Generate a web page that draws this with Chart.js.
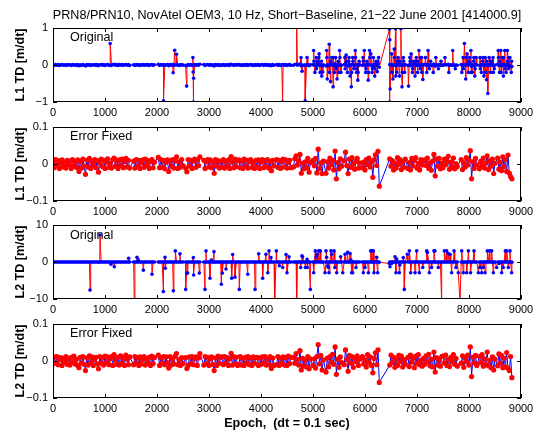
<!DOCTYPE html>
<html lang="en">
<head>
<meta charset="UTF-8">
<title>PRN8/PRN10 time differences</title>
<script src="https://cdn.jsdelivr.net/npm/chart.js"></script>
<style>
  body { margin: 0; background: #fff; }
  #fig { position: relative; width: 535px; height: 432px; background: #fff; font-family: "Liberation Sans", Arial, sans-serif; color: #000; overflow: hidden; }
  #fig canvas { position: absolute; left: 0; }
  .txt { position: absolute; font-size: 12.6px; line-height: 14px; white-space: pre; }
</style>
</head>
<body>
<div id="fig">
  <canvas id="c1" width="540" height="104" style="top:16px"></canvas>
  <canvas id="c2" width="540" height="104" style="top:115px"></canvas>
  <canvas id="c3" width="540" height="104" style="top:213px"></canvas>
  <canvas id="c4" width="540" height="104" style="top:312px"></canvas>
  <div class="txt" style="left:37px; width:500px; text-align:center; top:8px;">PRN8/PRN10, NovAtel OEM3, 10 Hz, Short−Baseline, 21−22 June 2001 [414000.9]</div>
  <div class="txt" style="left:70px; top:30px;">Original</div>
  <div class="txt" style="left:70px; top:129px;">Error Fixed</div>
  <div class="txt" style="left:70px; top:228px;">Original</div>
  <div class="txt" style="left:70px; top:326px;">Error Fixed</div>
  <div class="txt" style="left:53px; width:468px; text-align:center; top:416px; font-weight:bold;">Epoch,  (dt = 0.1 sec)</div>
</div>
<script>
// recorded blocks (epochs), sampled every STEP epochs
const STEP = 25;
const segStart = [0, 1550, 2025, 2550, 2900, 3250, 3575, 3925, 4300, 4625, 5000, 5250, 5600, 5950, 6475, 6825, 7150, 7500, 7850, 8200, 8550];
const segEnd   = [1475, 1950, 2500, 2825, 3225, 3550, 3900, 4250, 4575, 4950, 5200, 5550, 5900, 6275, 6775, 7125, 7475, 7775, 8150, 8500, 8825];

// L1 time difference after fixing (m/dt), one line per block
const l1Fixed = [
  0.006, -0.010, 0.012, -0.004, 0.009, -0.012, 0.003, 0.011, -0.008, 0.005,
  -0.011, 0.010, -0.002, 0.008, -0.012, 0.012, -0.006, 0.004, -0.009, 0.011,
  -0.020, 0.007, -0.011, 0.013, -0.005, -0.028, 0.010, -0.008, 0.015, -0.012,
  0.006, -0.003, 0.012, -0.010, 0.009, -0.022, 0.004, 0.013, -0.007, 0.010,
  -0.012, 0.005, 0.014, -0.009, 0.002, -0.011, 0.012, 0.016, -0.006, 0.009,
  -0.012, 0.011, -0.004, 0.013, -0.010, 0.007, 0.015, -0.008, 0.010, -0.011,
  0.008, -0.011, 0.012, -0.006, 0.010, -0.012, 0.004, 0.011, -0.009, 0.013, -0.003, 0.009, -0.012, 0.006, 0.012, -0.010, 0.005,
  0.018, -0.010, 0.012, -0.008, 0.010, -0.013, 0.005, 0.011, -0.020, 0.009, -0.006, 0.012, -0.011, 0.008, 0.019, -0.012, 0.006, -0.009, 0.012, -0.004,
  -0.011, -0.021, 0.012, -0.006, 0.010, -0.012, 0.008, 0.013, -0.009, 0.011, -0.004, 0.019,
  0.010, -0.012, 0.006, 0.012, -0.008, 0.011, -0.010, 0.004, -0.025, 0.012, -0.006, 0.009, -0.011, 0.007,
  -0.009, 0.012, -0.011, 0.007, -0.004, 0.011, -0.012, 0.020, 0.005, -0.010, 0.013, -0.007, 0.009,
  0.011, -0.010, 0.008, -0.012, 0.013, -0.005, 0.010, -0.011, 0.006, 0.012, -0.009, 0.004, -0.012, 0.010,
  -0.008, 0.011, -0.012, 0.005, 0.012, -0.010, 0.009, -0.006, 0.012, -0.011, 0.007, -0.018, 0.010, -0.005,
  0.012, -0.009, 0.010, -0.012, 0.006, 0.013, -0.008, 0.011, -0.011, 0.004, 0.010, -0.010,
  -0.008, 0.014, 0.022, -0.003, 0.009, 0.026, -0.025, 0.002, -0.013, 0.006, -0.010, 0.015, -0.022, 0.004,
  0.010, -0.005, 0.015, -0.024, 0.040, -0.012, 0.003, -0.026, 0.008,
  -0.025, 0.006, -0.011, 0.016, -0.002, 0.010, -0.016, 0.035, -0.040, 0.004, -0.013, 0.014, -0.006,
  0.009, 0.032, -0.004, -0.026, 0.013, -0.009, 0.017, 0.001, -0.014, 0.007, 0.015, -0.011, 0.003,
  -0.010, 0.005, -0.016, 0.012, -0.002, 0.016, -0.008, 0.006, -0.036, 0.011, 0.025, -0.004, 0.034, -0.060,
  0.014, -0.006, 0.009, -0.016, 0.003, -0.011, 0.017, -0.001, 0.012, -0.015, 0.006, -0.009, 0.013,
  -0.012, 0.004, -0.016, 0.015, -0.005, 0.010, 0.017, -0.011, 0.002, -0.016, 0.012, -0.003, 0.009,
  0.011, -0.004, 0.016, -0.012, 0.003, -0.017, 0.008, 0.026, -0.032, 0.013, -0.006, 0.015, -0.013, 0.002,
  -0.010, 0.013, -0.002, 0.008, 0.021, -0.014, 0.005, -0.009, 0.016, -0.013, 0.001, -0.007,
  0.012, -0.015, 0.004, -0.008, 0.017, -0.003, 0.010, 0.036, -0.040, 0.006, -0.012, 0.015, -0.002,
  -0.013, 0.007, -0.004, 0.016, -0.011, 0.003, 0.022, -0.015, 0.009, -0.006, 0.013, -0.026, 0.002,
  0.016, -0.014, 0.005, -0.018, 0.019, -0.007, 0.012, -0.020, 0.024, -0.025, -0.034, -0.040
];

// L2 time difference after fixing (m/dt)
const l2Fixed = [
  -0.008, 0.011, -0.005, 0.012, -0.010, 0.004, 0.009, -0.012, 0.007, -0.003,
  0.012, -0.009, 0.006, -0.011, 0.010, -0.004, 0.013, -0.008, 0.005, -0.012,
  -0.018, 0.010, -0.006, 0.012, -0.009, -0.026, 0.008, -0.011, 0.014, -0.005,
  0.011, -0.012, 0.004, 0.010, -0.008, -0.021, 0.012, -0.006, 0.009, -0.011,
  0.013, -0.004, 0.011, -0.010, 0.006, 0.012, -0.012, 0.017, 0.003, -0.009,
  0.010, -0.011, 0.014, -0.006, 0.008, -0.012, 0.016, 0.005, -0.010, 0.011,
  -0.010, 0.012, -0.005, 0.009, -0.012, 0.011, -0.008, 0.004, 0.012, -0.011, 0.007, -0.004, 0.010, -0.012, 0.013, -0.007, 0.009,
  0.016, -0.012, 0.009, -0.006, 0.012, -0.010, 0.011, -0.004, -0.019, 0.012, -0.011, 0.006, -0.008, 0.013, 0.020, -0.010, 0.004, -0.012, 0.009, -0.007,
  0.009, -0.020, -0.012, 0.011, -0.007, 0.012, -0.010, 0.006, 0.011, -0.012, 0.008, 0.020,
  -0.011, 0.012, -0.007, 0.010, -0.012, 0.005, 0.011, -0.009, -0.026, 0.008, -0.012, 0.013, -0.006, 0.010,
  0.011, -0.010, 0.012, -0.006, 0.009, -0.012, 0.006, 0.021, -0.011, 0.012, -0.008, 0.010, -0.012,
  -0.009, 0.012, -0.011, 0.007, -0.012, 0.010, -0.005, 0.012, -0.010, 0.008, -0.012, 0.011, -0.006, 0.009,
  0.010, -0.012, 0.008, -0.009, 0.011, -0.006, 0.012, -0.011, 0.005, -0.010, 0.012, -0.020, 0.008, -0.012,
  -0.010, 0.012, -0.012, 0.008, -0.006, 0.011, -0.011, 0.009, -0.012, 0.013, -0.007, 0.010,
  0.010, -0.006, 0.020, 0.004, -0.011, 0.028, -0.024, 0.007, -0.013, 0.002, -0.016, 0.012, -0.021, 0.006,
  -0.012, 0.006, -0.019, 0.012, 0.044, -0.008, 0.015, -0.024, 0.003,
  -0.030, 0.008, -0.016, 0.012, -0.003, 0.018, -0.009, 0.038, -0.036, 0.005, -0.017, 0.011, -0.004,
  -0.010, 0.030, 0.004, -0.028, 0.015, -0.006, 0.012, -0.017, 0.008, -0.002, 0.014, -0.012, 0.005,
  0.012, -0.008, 0.003, -0.016, 0.017, -0.004, 0.011, -0.012, -0.032, 0.007, 0.022, -0.010, 0.030, -0.058,
  -0.011, 0.016, -0.004, 0.010, -0.017, 0.006, -0.012, 0.015, -0.002, 0.013, -0.016, 0.004, -0.008,
  0.010, -0.015, 0.016, -0.003, 0.008, -0.018, 0.013, -0.006, 0.017, -0.010, 0.002, -0.014, 0.007,
  -0.009, 0.014, -0.002, 0.018, -0.013, 0.005, -0.016, 0.024, -0.030, 0.009, -0.011, 0.003, -0.014, 0.012,
  0.013, -0.005, 0.016, -0.012, 0.004, -0.015, 0.010, -0.002, 0.017, -0.009, 0.007, -0.014,
  -0.006, 0.014, -0.017, 0.009, -0.002, 0.016, -0.011, 0.038, -0.042, 0.010, -0.005, 0.015, -0.012,
  0.012, -0.004, 0.017, -0.014, 0.006, -0.010, 0.024, -0.013, 0.002, -0.018, 0.011, -0.024, 0.005,
  -0.013, 0.019, -0.006, 0.015, -0.018, 0.008, -0.016, 0.023, -0.019, -0.026, 0.012, -0.045
];

// cycle slips in the original L1 series: epoch and value (m/dt)
const l1SlipEpoch = [
  1100, 2125, 2310, 2340, 2375, 2570, 2690, 2695, 2700, 2705, 4415, 4685, 4770, 4790, 4850, 4885,
  5012, 5037, 5062, 5087, 5112, 5137, 5162, 5187,
  5262, 5275, 5312, 5337, 5362, 5387, 5412, 5437, 5462, 5487, 5512, 5537,
  5612, 5637, 5662, 5687, 5712, 5737, 5762, 5787, 5812, 5837, 5862, 5887,
  5962, 5987, 6012, 6037, 6062, 6087, 6112, 6137, 6162, 6187, 6212, 6237, 6262,
  6470, 6472, 6478, 6484, 6512, 6537, 6562, 6587, 6612, 6637, 6662, 6690, 6712, 6737, 6762,
  6837, 6862, 6887, 6912, 6937, 6962, 6987, 7012, 7037, 7062, 7087, 7112,
  7162, 7187, 7212, 7237, 7262, 7312, 7362, 7412, 7462,
  7537, 7612, 7687, 7737,
  7862, 7887, 7912, 7937, 7962, 7987, 8012, 8037, 8062, 8087, 8112, 8137,
  8212, 8237, 8262, 8287, 8312, 8337, 8362, 8387, 8412, 8437, 8462, 8487,
  8562, 8587, 8612, 8637, 8662, 8687, 8712, 8737, 8762, 8787, 8812,
  5018, 5068, 5118, 5168,
  5268, 5318, 5343, 5393, 5443, 5493, 5518,
  5618, 5643, 5693, 5743, 5768, 5818, 5843, 5868,
  5968, 6018, 6068, 6093, 6143, 6193, 6243,
  6518, 6568, 6593, 6618, 6668, 6718, 6743,
  6868, 6918, 6968, 7018, 7068, 7093,
  7893, 7943, 7993, 8043, 8093, 8118,
  8218, 8268, 8318, 8343, 8418, 8468,
  8568, 8593, 8618, 8668, 8693, 8743, 8768, 8818
];
const l1SlipValue = [
  0.58, -0.97, -0.21, 0.40, 0.29, -0.57, 0.20, -0.19, -1.00, -0.36, -1.00, 1.30, 0.20, -0.17, -0.97, 0.20,
  0.39, -0.20, 0.20, 0.10, 0.20, -0.20, 0.10, -0.19,
  0.39, -0.38, 0.56, -0.45, 0.20, -0.59, -0.20, 0.20, -0.38, 0.10, 0.39, -0.20,
  0.20, 0.27, -0.20, 0.10, -0.30, -0.59, 0.20, -0.10, 0.39, -0.20, -0.41, 0.10,
  0.20, 0.39, -0.20, 0.10, -0.41, 0.39, 0.30, -0.20, 0.20, -0.30, 0.10, -0.18, 0.20,
  0.97, -1.00, 0.68, -0.65, 0.30, -0.38, 0.43, 0.98, -0.20, 0.20, -0.30, 0.98, -0.59, 0.20, -0.20,
  -0.57, 0.20, 0.30, -0.20, 0.10, -0.30, 0.20, -0.20, 0.39, -0.10, 0.20, -0.39,
  0.20, -0.20, 0.39, -0.10, 0.10, -0.20, 0.20, -0.10, 0.10,
  0.20, -0.20, 0.39, -0.10,
  -0.20, 0.20, 0.58, -0.38, 0.30, -0.20, 0.20, 0.39, -0.20, 0.10, -0.30, 0.20,
  0.20, -0.20, 0.10, -0.30, 0.20, -0.40, -0.77, 0.20, -0.20, 0.10, 0.20, -0.10,
  0.39, -0.20, 0.39, 0.20, -0.30, 0.39, -0.20, 0.39, -0.10, 0.20, -0.20,
  0.10, -0.10, 0.30, -0.30,
  0.20, -0.20, 0.10, 0.20, -0.10, -0.20, 0.20,
  -0.10, 0.10, 0.20, -0.20, 0.10, 0.20, -0.10, -0.20,
  0.10, -0.10, -0.20, 0.20, -0.10, -0.10, 0.10,
  -0.20, 0.20, -0.30, 0.10, 0.10, -0.20, 0.10,
  0.10, -0.10, 0.10, 0.10, 0.20, -0.20,
  -0.10, 0.20, 0.10, -0.20, 0.20, -0.10,
  -0.10, 0.20, -0.20, 0.10, 0.10, -0.20,
  0.20, 0.10, -0.20, 0.20, -0.10, 0.10, 0.20, 0.10
];

// cycle slips in the original L2 series
const l2SlipEpoch = [
  712, 904, 1115, 1179, 1455, 1564, 1615, 1641, 1737, 1904,
  2122, 2154, 2160, 2314, 2353, 2442, 2551, 2571, 2590, 2699,
  2705, 2814, 2923, 2942, 3019, 3045, 3096, 3237, 3256, 3327,
  3436, 3455, 3500, 3583, 3744, 3885, 3955, 4032, 4096, 4130,
  4154, 4192, 4263, 4295, 4353, 4417, 4481, 4500, 4538, 4686,
  4763, 4788, 4800, 4853, 4885, 4890, 4949, 5013, 5045, 5060,
  5077, 5109, 5141, 5231, 5250, 5262, 5282, 5295, 5308, 5346,
  5360, 5404, 5420, 5455, 5532, 5571, 5616, 5667, 5712, 5730,
  5744, 5763, 5827, 5968, 6000, 6065, 6109, 6130, 6160, 6173,
  6224, 6244, 6468, 6480, 6510, 6577, 6596, 6610, 6660, 6670,
  6737, 6756, 6814, 6853, 6878, 6962, 6994, 7045, 7110, 7186,
  7200, 7237, 7280, 7327, 7345, 7410, 7474, 7526, 7570, 7600,
  7635, 7667, 7712, 7750, 7795, 7827, 7860, 7890, 7955, 7988,
  8030, 8097, 8180, 8212, 8244, 8276, 8308, 8353, 8395, 8436,
  8468, 8532, 8580, 8628, 8660, 8699, 8725, 8756, 8788, 8820
];
const l2SlipValue = [
  -7.6, 7.3, -0.6, -1.3, 1.0, -11, 1.3, 0.5, -2.2, -3.3,
  -8.0, 1.3, -1.7, -7.8, 3.0, 2.2, -7.4, -3.0, -3.0, 1.2,
  -3.5, -3.0, -7.4, 3.0, -4.4, 0.5, 2.8, -6.0, -3.0, -1.9,
  -4.4, 2.0, -4.1, -7.4, -3.3, -7.4, 2.2, -4.4, 2.1, -2.9,
  3.0, 1.2, -11, 3.0, -1.0, -1.5, 2.0, -2.9, 1.4, -11,
  -1.5, 1.7, 1.4, -1.5, 0.7, -1.5, -7.4, -2.9, 3.0, 1.3,
  2.1, 3.0, 3.0, -2.9, 3.0, 1.3, -1.1, -1.5, -2.9, 3.0,
  2.1, 3.0, -1.5, -2.9, 1.4, -2.9, 2.1, 2.6, 2.3, 0.5,
  -2.9, -2.9, -1.5, -2.9, -1.5, -2.9, 3.0, 3.0, 3.0, -2.9,
  1.3, -2.9, -0.4, -1.3, -0.4, 1.4, -2.9, 0.8, -2.9, -0.8,
  1.2, -7.4, 2.1, 3.0, -2.9, -2.9, 3.0, -2.9, -1.5, 3.0,
  2.6, -2.9, -1.5, 3.0, 3.0, -1.5, -11, 3.0, 3.0, 2.3,
  2.1, -2.9, 3.0, -1.5, -2.9, -11, 3.0, -2.9, -2.9, 3.0,
  -2.9, 3.0, -2.9, -1.5, -2.9, -1.5, -2.9, 3.0, 3.0, 3.0,
  -2.9, -1.5, -0.4, -2.9, -1.5, 3.0, 3.0, -1.5, 3.0, -2.9
];

// epochs of the sampled records
const epochs = [];
segStart.forEach((s, i) => { for (let t = s; t <= segEnd[i]; t += STEP) epochs.push(t); });

function series(vals) {
  const n = Math.min(vals.length, epochs.length);
  const pts = [];
  for (let i = 0; i < n; i++) pts.push({ x: epochs[i], y: vals[i] });
  return pts;
}
// original = fixed record plus the slip epochs
function withSlips(base, ep, val) {
  const pts = base.concat(ep.map((x, i) => ({ x: x, y: val[i] })));
  pts.sort((a, b) => a.x - b.x);
  return pts;
}

const fmt = v => String(+v.toFixed(2)).replace('-', '\u2212');

// box + inward tick marks, matlab style
const frame = {
  id: 'frame',
  afterDatasetsDraw(chart) {
    const { ctx, chartArea: a } = chart;
    const xs = chart.scales.x, ys = chart.scales.y;
    const L = 4;
    ctx.save();
    ctx.strokeStyle = '#000';
    ctx.lineWidth = 1;
    ctx.beginPath();
    xs.ticks.forEach(t => {
      const px = Math.round(xs.getPixelForValue(t.value)) + 0.5;
      ctx.moveTo(px, a.top); ctx.lineTo(px, a.top + L);
      ctx.moveTo(px, a.bottom); ctx.lineTo(px, a.bottom - L);
    });
    ys.ticks.forEach(t => {
      const py = Math.round(ys.getPixelForValue(t.value)) + 0.5;
      ctx.moveTo(a.left, py); ctx.lineTo(a.left + L, py);
      ctx.moveTo(a.right, py); ctx.lineTo(a.right - L, py);
    });
    ctx.stroke();
    ctx.strokeRect(Math.round(a.left) + 0.5, Math.round(a.top) + 0.5, Math.round(a.width) - 1, Math.round(a.height) - 1);
    ctx.restore();
  }
};

Chart.defaults.font.family = '"Liberation Sans", Arial, sans-serif';
Chart.defaults.font.size = 11;
Chart.defaults.color = '#000';

function makePanel(id, pts, lineColor, dotColor, dotRadius, yMax, yStep, yTitle) {
  return new Chart(document.getElementById(id), {
    type: 'line',
    data: {
      datasets: [{
        data: pts,
        borderColor: lineColor,
        borderWidth: 1,
        pointRadius: dotRadius,
        pointBackgroundColor: dotColor,
        pointBorderWidth: 0,
        tension: 0
      }]
    },
    options: {
      responsive: false,
      animation: false,
      devicePixelRatio: 1,
      events: [],
      // chart area: x 53..521, height 74
      layout: { padding: { top: 12, right: 19, left: 0, bottom: 0 } },
      plugins: { legend: { display: false }, tooltip: { enabled: false } },
      scales: {
        x: {
          type: 'linear', min: 0, max: 9000,
          grid: { display: false, drawTicks: false },
          border: { display: false },
          ticks: { stepSize: 1000, autoSkip: false, maxRotation: 0, padding: 4, callback: v => String(v) },
          afterFit: s => { s.height = 18; }
        },
        y: {
          min: -yMax, max: yMax,
          grid: { display: false, drawTicks: false },
          border: { display: false },
          ticks: { stepSize: yStep, padding: 5, callback: v => fmt(v) },
          title: { display: true, text: yTitle, font: { size: 12.5, weight: 'bold' }, padding: { top: 13, bottom: 0 } },
          afterFit: s => { s.width = 53; }
        }
      }
    },
    plugins: [frame]
  });
}

const l1FixedPts = series(l1Fixed);
const l2FixedPts = series(l2Fixed);

makePanel('c1', withSlips(l1FixedPts, l1SlipEpoch, l1SlipValue), '#ff0000', '#0000ff', 1.8, 1, 1, 'L1 TD [m/dt]');
makePanel('c2', l1FixedPts, '#0000ff', '#ff0000', 2.6, 0.1, 0.1, 'L1 TD [m/dt]');
makePanel('c3', withSlips(l2FixedPts, l2SlipEpoch, l2SlipValue), '#ff0000', '#0000ff', 1.8, 10, 10, 'L2 TD [m/dt]');
makePanel('c4', l2FixedPts, '#0000ff', '#ff0000', 2.6, 0.1, 0.1, 'L2 TD [m/dt]');
</script>
</body>
</html>
